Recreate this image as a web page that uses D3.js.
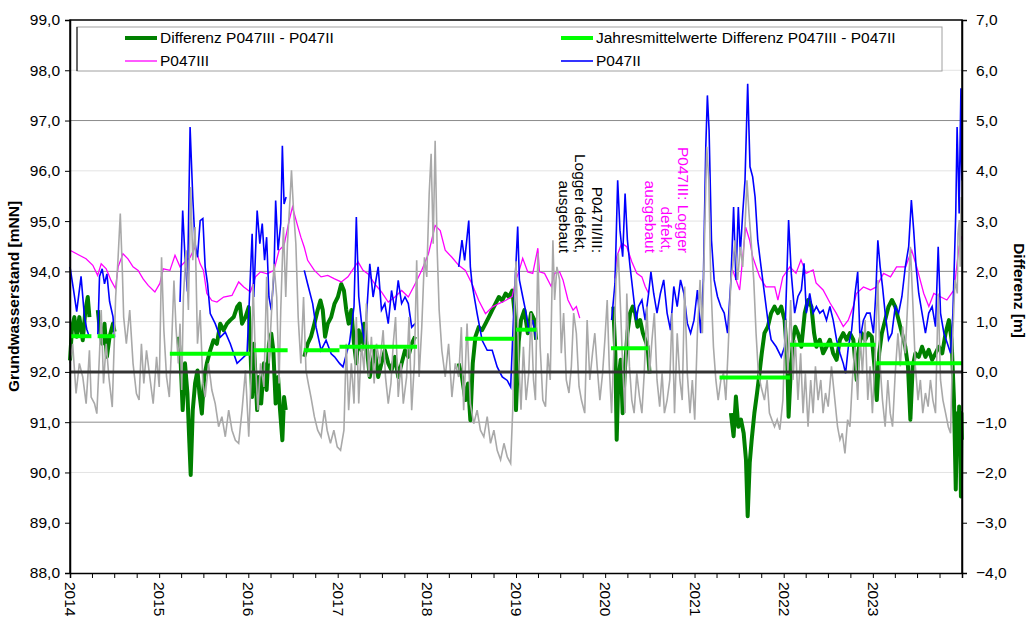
<!DOCTYPE html>
<html><head><meta charset="utf-8">
<script src="https://cdn.jsdelivr.net/npm/d3@7"></script>
<style>body{margin:0;background:#fff} text{font-family:"Liberation Sans",Arial,sans-serif}</style>
</head><body><svg id="c" width="1031" height="621"></svg>
<script>
// ---------------- data (decimal year, value) ----------------
// Differenz P047III - P047II [m] (right axis)
const diffSeries = [
[2014.000,0.23],[2014.023,0.89],[2014.049,1.09],[2014.075,0.70],[2014.105,1.09],[2014.143,0.63],[2014.173,1.23],[2014.199,1.49],[2014.218,1.09],[2014.26,null],
[2014.312,1.23],[2014.331,0.89],[2014.361,0.56],[2014.387,0.96],[2014.414,0.30],[2014.444,0.70],[2014.482,0.96],[2014.500,0.80],[2014.9,null],
[2015.215,0.70],[2015.242,0.17],[2015.264,-0.76],[2015.290,0.17],[2015.317,-0.43],[2015.339,-1.42],[2015.354,-2.05],[2015.377,-0.76],[2015.403,-0.23],[2015.430,0.03],[2015.452,-0.43],[2015.479,-0.83],[2015.505,-0.10],[2015.535,0.17],[2015.573,0.43],[2015.610,0.63],[2015.648,0.56],[2015.685,0.96],[2015.723,0.83],[2015.761,0.96],[2015.798,1.03],[2015.836,1.09],[2015.874,1.29],[2015.904,1.36],[2015.930,0.96],[2015.968,1.09],
[2016.005,1.29],[2016.024,0.43],[2016.043,-0.50],[2016.062,0.56],[2016.081,-0.10],[2016.099,-0.76],[2016.118,-0.10],[2016.144,-0.63],[2016.175,0.17],[2016.205,-0.36],[2016.231,0.56],[2016.257,0.76],[2016.280,0.43],[2016.306,-0.63],[2016.333,-0.10],[2016.355,-0.76],[2016.381,-1.36],[2016.400,-0.50],[2016.419,-0.76],[2016.5,null],
[2016.626,0.30],[2016.664,0.56],[2016.701,0.70],[2016.739,0.96],[2016.776,1.23],[2016.807,1.42],[2016.833,1.23],[2016.859,0.70],[2016.889,0.96],[2016.927,1.09],[2016.965,1.36],
[2017.002,1.49],[2017.040,1.75],[2017.070,1.62],[2017.096,1.23],[2017.123,0.96],[2017.153,1.23],[2017.183,0.56],[2017.209,0.17],[2017.236,0.83],[2017.266,0.43],[2017.296,0.96],[2017.322,0.56],[2017.360,-0.10],[2017.386,0.17],[2017.416,0.43],[2017.454,-0.10],[2017.491,0.17],[2017.529,0.43],[2017.567,0.17],[2017.604,0.03],[2017.642,0.30],[2017.679,-0.10],[2017.717,0.17],[2017.755,0.43],[2017.792,0.30],[2017.830,0.56],[2017.868,0.70],[2018.0,null],
[2018.357,0.17],[2018.394,-0.10],[2018.432,-0.56],[2018.462,-0.23],[2018.488,-0.96],[2018.515,0.17],[2018.545,0.70],[2018.582,0.89],[2018.620,0.83],[2018.658,0.96],[2018.695,1.09],[2018.733,1.23],[2018.771,1.36],[2018.808,1.49],[2018.846,1.42],[2018.883,1.56],[2018.921,1.49],[2018.959,1.62],[2018.989,1.09],
[2019.000,-0.76],[2019.030,0.60],[2019.056,1.03],[2019.094,1.23],[2019.132,0.77],[2019.169,1.17],[2019.207,1.03],[2019.226,0.64],[2019.5,null],
[2020.091,1.30],[2020.114,0.37],[2020.129,-1.35],[2020.147,-0.16],[2020.174,0.24],[2020.196,-0.82],[2020.223,0.11],[2020.249,0.77],[2020.279,1.17],[2020.309,1.30],[2020.336,1.17],[2020.362,0.90],[2020.392,1.03],[2020.422,0.77],[2020.448,0.64],[2020.475,0.50],[2020.497,-0.03],[2020.8,null],
[2021.408,-0.82],[2021.438,-1.28],[2021.464,-0.49],[2021.491,-1.09],[2021.521,-0.95],[2021.551,-1.22],[2021.577,-1.75],[2021.596,-2.87],[2021.619,-1.81],[2021.641,-1.35],[2021.671,-0.82],[2021.701,-0.42],[2021.728,-0.03],[2021.754,0.37],[2021.784,0.77],[2021.822,0.90],[2021.859,1.17],[2021.897,1.30],[2021.935,1.17],[2021.972,1.30],
[2022.010,1.03],[2022.040,0.24],[2022.055,-0.89],[2022.078,-0.03],[2022.104,0.64],[2022.130,0.90],[2022.160,0.77],[2022.198,0.50],[2022.236,1.17],[2022.273,1.43],[2022.311,1.30],[2022.341,0.77],[2022.367,0.50],[2022.405,0.64],[2022.442,0.37],[2022.480,0.50],[2022.518,0.64],[2022.555,0.37],[2022.593,0.24],[2022.631,0.64],[2022.668,0.77],[2022.706,0.64],[2022.743,0.77],[2022.781,0.64],[2022.819,-0.16],[2022.845,0.50],[2022.875,0.77],[2022.913,0.64],[2022.950,0.77],[2022.988,0.70],
[2023.018,0.11],[2023.044,-0.56],[2023.071,0.37],[2023.101,0.77],[2023.138,1.03],[2023.176,1.30],[2023.214,1.43],[2023.251,1.30],[2023.289,1.03],[2023.326,0.77],[2023.364,0.50],[2023.394,0.11],[2023.421,-0.95],[2023.447,0.11],[2023.477,0.37],[2023.515,0.30],[2023.552,0.50],[2023.590,0.30],[2023.627,0.44],[2023.665,0.24],[2023.703,0.37],[2023.740,0.50],[2023.778,0.37],[2023.816,0.77],[2023.853,1.03],[2023.883,0.64],[2023.910,-0.56],[2023.930,-2.34],[2023.945,-0.82],[2023.958,-1.49],[2023.968,-0.69],[2023.978,-1.22],[2023.988,-2.48],[2023.994,-0.82],[2023.999,-1.35]
];
// Jahresmittelwerte Differenz (start, end, value)
const meanStart = [2014.01, 2014.31, 2015.12, 2016.06, 2016.62, 2017.02, 2018.43, 2019.00, 2020.065, 2021.28, 2022.07, 2023.04];
const meanEnd   = [2014.24, 2014.50, 2016.02, 2016.44, 2017.02, 2017.89, 2018.98, 2019.23, 2020.486, 2022.07, 2023.03, 2024.00];
const meanValue = [0.71, 0.71, 0.36, 0.43, 0.43, 0.50, 0.66, 0.84, 0.47, -0.11, 0.54, 0.17];
// P047III [mNN]
const p3Series = [
[2014.000,94.42],[2014.105,94.32],[2014.180,94.25],[2014.256,94.12],[2014.310,93.92],[2014.350,94.15],[2014.406,94.05],[2014.460,93.82],[2014.510,93.66],[2014.540,94.09],[2014.594,94.35],[2014.650,94.25],[2014.707,94.09],[2014.764,94.02],[2014.820,93.85],[2014.877,93.72],[2014.952,93.59],
[2015.008,93.76],[2015.046,94.05],[2015.121,94.02],[2015.178,94.32],[2015.234,94.09],[2015.290,94.19],[2015.347,94.28],[2015.403,94.48],[2015.460,94.15],[2015.497,94.02],[2015.535,93.56],[2015.591,93.42],[2015.648,93.39],[2015.723,93.49],[2015.817,93.52],[2015.892,93.79],[2015.949,93.69],
[2016.024,93.59],[2016.080,93.89],[2016.137,93.99],[2016.212,93.95],[2016.287,94.02],[2016.344,94.42],[2016.400,94.52],[2016.457,95.01],[2016.494,95.28],[2016.551,94.91],[2016.588,94.68],[2016.626,94.48],[2016.664,94.22],[2016.739,94.02],[2016.814,93.89],[2016.889,93.92],[2016.965,93.85],
[2017.040,93.79],[2017.115,93.89],[2017.190,94.09],[2017.228,94.19],[2017.284,94.02],[2017.341,93.95],[2017.416,93.75],[2017.491,93.59],[2017.567,93.39],[2017.642,93.49],[2017.717,93.62],[2017.792,93.49],[2017.868,93.75],[2017.943,94.02],
[2018.018,94.35],[2018.093,94.91],[2018.150,94.81],[2018.206,94.42],[2018.281,94.28],[2018.357,94.12],[2018.432,94.02],[2018.507,93.75],[2018.582,93.42],[2018.658,93.16],[2018.733,93.29],[2018.808,93.36],[2018.883,93.42],[2018.958,93.50],
[2019.000,93.83],[2019.038,94.03],[2019.075,94.26],[2019.132,93.99],[2019.188,93.96],[2019.245,94.46],[2019.263,93.99],[2019.320,93.96],[2019.395,93.70],[2019.433,93.96],[2019.489,93.99],[2019.527,93.83],[2019.583,93.43],[2019.640,93.23],[2019.677,93.30],[2019.715,93.07],[2019.9,null],
[2020.110,93.86],[2020.129,94.29],[2020.185,94.56],[2020.242,94.49],[2020.298,94.19],[2020.354,93.96],[2020.411,93.89],[2020.448,93.70],[2020.486,93.56],[2020.9,null],
[2021.427,94.03],[2021.506,93.63],[2021.573,94.88],[2021.618,94.62],[2021.652,94.29],[2021.731,93.89],[2021.800,93.69],[2021.900,93.69],[2021.935,93.43],[2021.990,93.89],
[2022.070,94.09],[2022.138,93.96],[2022.194,94.23],[2022.250,93.96],[2022.330,94.03],[2022.363,93.77],[2022.442,93.63],[2022.520,93.37],[2022.589,93.17],[2022.668,92.90],[2022.724,93.03],[2022.780,93.30],[2022.815,93.56],[2022.894,93.69],[2022.973,93.63],
[2023.040,93.69],[2023.120,93.96],[2023.198,93.89],[2023.266,94.09],[2023.368,94.09],[2023.436,94.42],[2023.492,94.09],[2023.571,93.56],[2023.628,93.30],[2023.684,93.56],[2023.763,93.49],[2023.830,93.43],[2023.910,93.63],[2023.966,94.48],[2023.999,94.70]
];
// P047II [mNN]
const p2Series = [
[2014.000,94.09],[2014.038,93.65],[2014.075,93.20],[2014.124,93.90],[2014.162,93.10],[2014.188,92.85],[2014.218,92.69],[2014.26,null],
[2014.312,92.75],[2014.331,93.90],[2014.361,94.05],[2014.387,93.75],[2014.414,93.95],[2014.444,93.40],[2014.482,93.10],[2014.500,92.69],[2014.9,null],
[2015.234,93.39],[2015.264,95.21],[2015.290,94.28],[2015.317,93.60],[2015.347,96.87],[2015.377,95.48],[2015.403,94.55],[2015.430,94.28],[2015.460,95.01],[2015.490,95.05],[2015.516,94.09],[2015.543,93.75],[2015.573,93.16],[2015.629,92.96],[2015.685,92.69],[2015.742,92.79],[2015.798,92.56],[2015.874,92.17],[2015.986,92.36],
[2016.043,94.75],[2016.062,93.49],[2016.099,95.21],[2016.129,94.55],[2016.156,94.95],[2016.182,94.22],[2016.205,94.68],[2016.231,93.49],[2016.257,93.23],[2016.287,93.95],[2016.306,95.41],[2016.333,94.42],[2016.363,94.95],[2016.381,96.50],[2016.400,95.34],[2016.423,95.48],[2016.5,null],
[2016.626,94.02],[2016.664,93.75],[2016.720,93.36],[2016.758,92.89],[2016.814,92.43],[2016.870,92.63],[2016.927,92.36],[2016.965,92.30],[2017.021,92.17],[2017.059,92.10],[2017.134,92.60],[2017.183,93.30],[2017.209,95.08],[2017.236,93.50],[2017.266,93.00],[2017.303,92.56],[2017.360,94.15],[2017.397,93.49],[2017.454,94.09],[2017.491,93.23],[2017.529,93.36],[2017.567,92.96],[2017.604,93.62],[2017.642,93.23],[2017.679,93.82],[2017.717,93.36],[2017.755,93.49],[2017.792,93.36],[2017.830,92.89],[2017.868,92.96],[2018.0,null],
[2018.357,94.09],[2018.394,94.62],[2018.424,94.22],[2018.451,94.68],[2018.470,95.01],[2018.488,94.09],[2018.507,93.75],[2018.564,93.16],[2018.620,92.63],[2018.677,92.43],[2018.733,92.43],[2018.789,92.10],[2018.846,91.90],[2018.902,91.83],[2018.940,91.70],[2018.977,93.30],
[2019.019,94.89],[2019.038,93.83],[2019.075,93.50],[2019.113,93.17],[2019.150,92.77],[2019.188,93.03],[2019.226,92.64],[2019.5,null],
[2020.072,93.03],[2020.110,93.76],[2020.140,95.81],[2020.166,94.82],[2020.196,94.29],[2020.223,95.55],[2020.249,94.62],[2020.279,94.09],[2020.317,93.50],[2020.347,93.03],[2020.373,93.30],[2020.411,93.43],[2020.448,93.03],[2020.486,93.56],[2020.512,93.99],[2020.543,93.56],[2020.580,93.17],[2020.618,93.56],[2020.655,93.83],[2020.693,93.17],[2020.731,92.83],[2020.768,93.70],[2020.806,93.30],[2020.843,93.83],[2020.881,93.56],[2020.919,92.97],[2020.956,92.77],[2020.994,93.03],
[2021.032,93.63],[2021.069,92.77],[2021.099,93.83],[2021.126,96.48],[2021.144,97.50],[2021.163,96.81],[2021.190,94.62],[2021.220,93.83],[2021.257,93.50],[2021.295,93.30],[2021.333,93.17],[2021.370,92.77],[2021.408,93.83],[2021.438,95.28],[2021.464,93.83],[2021.491,95.28],[2021.513,94.36],[2021.540,95.15],[2021.566,95.81],[2021.596,97.73],[2021.622,96.08],[2021.652,95.88],[2021.679,95.48],[2021.709,94.62],[2021.746,94.09],[2021.784,93.56],[2021.822,93.03],[2021.859,92.64],[2021.916,92.50],[2021.972,92.30],
[2022.010,92.50],[2022.055,95.02],[2022.085,93.96],[2022.123,93.17],[2022.160,93.50],[2022.198,93.63],[2022.228,94.16],[2022.254,93.17],[2022.292,93.56],[2022.330,93.17],[2022.367,93.30],[2022.405,93.17],[2022.442,93.23],[2022.480,93.03],[2022.518,93.30],[2022.555,93.03],[2022.593,92.64],[2022.631,92.37],[2022.668,92.17],[2022.694,91.97],[2022.725,92.50],[2022.762,92.83],[2022.800,93.56],[2022.830,93.99],[2022.856,92.64],[2022.894,93.03],[2022.931,93.17],[2022.969,93.17],
[2023.007,92.77],[2023.033,93.56],[2023.056,94.62],[2023.082,94.09],[2023.108,93.70],[2023.138,93.17],[2023.176,92.64],[2023.214,92.77],[2023.251,93.30],[2023.289,93.17],[2023.326,93.50],[2023.364,94.09],[2023.402,94.49],[2023.432,95.42],[2023.458,94.82],[2023.485,94.09],[2023.515,93.56],[2023.552,93.17],[2023.590,92.77],[2023.627,93.17],[2023.665,93.30],[2023.703,92.90],[2023.733,94.49],[2023.759,93.17],[2023.797,92.77],[2023.835,92.57],[2023.872,92.37],[2023.898,93.17],[2023.930,95.15],[2023.945,96.87],[2023.958,95.95],[2023.968,95.15],[2023.978,96.48],[2023.988,97.64],[2023.994,96.15],[2023.999,95.81]
];
// grey reference series [mNN]
const greySeries = [
[2014.000,92.17],[2014.030,92.56],[2014.068,91.57],[2014.105,92.17],[2014.143,91.90],[2014.181,91.37],[2014.218,92.43],[2014.237,91.50],[2014.275,91.37],[2014.301,91.17],[2014.331,92.36],[2014.350,93.23],[2014.376,91.77],[2014.406,92.56],[2014.436,91.90],[2014.474,91.30],[2014.512,93.49],[2014.538,94.22],[2014.564,95.15],[2014.587,94.02],[2014.602,93.09],[2014.632,92.56],[2014.670,93.23],[2014.707,92.17],[2014.745,91.57],[2014.775,91.44],[2014.801,92.56],[2014.828,91.77],[2014.858,92.43],[2014.895,91.90],[2014.933,91.37],[2014.971,92.30],
[2015.001,91.70],[2015.027,94.28],[2015.053,92.83],[2015.083,91.90],[2015.114,91.50],[2015.140,92.56],[2015.166,93.82],[2015.189,92.89],[2015.215,92.17],[2015.234,92.96],[2015.253,91.64],[2015.272,93.49],[2015.302,94.42],[2015.328,93.23],[2015.354,95.68],[2015.377,94.22],[2015.403,94.88],[2015.430,92.56],[2015.460,93.23],[2015.490,91.77],[2015.516,91.50],[2015.554,92.17],[2015.591,91.64],[2015.629,91.37],[2015.667,90.91],[2015.704,91.11],[2015.742,90.71],[2015.780,91.24],[2015.817,90.84],[2015.855,90.64],[2015.892,90.58],[2015.930,91.24],[2015.968,92.03],
[2016.005,90.71],[2016.032,91.90],[2016.054,93.75],[2016.081,92.17],[2016.107,91.24],[2016.137,92.17],[2016.175,91.70],[2016.205,93.89],[2016.231,92.17],[2016.257,93.09],[2016.287,94.15],[2016.318,93.49],[2016.344,91.77],[2016.363,93.23],[2016.393,94.88],[2016.419,93.49],[2016.438,94.55],[2016.468,95.48],[2016.483,96.01],[2016.506,95.21],[2016.532,94.55],[2016.558,93.09],[2016.588,92.17],[2016.618,93.49],[2016.645,92.03],[2016.671,91.77],[2016.701,91.50],[2016.739,91.11],[2016.776,90.84],[2016.814,90.71],[2016.852,91.24],[2016.882,90.84],[2016.919,90.58],[2016.957,90.84],[2016.995,90.51],
[2017.032,90.44],[2017.070,90.84],[2017.096,92.56],[2017.123,91.24],[2017.153,92.17],[2017.183,91.37],[2017.209,93.09],[2017.236,91.37],[2017.266,92.56],[2017.296,92.03],[2017.322,93.36],[2017.348,91.90],[2017.378,92.70],[2017.409,91.77],[2017.435,92.56],[2017.473,92.17],[2017.510,92.83],[2017.536,91.90],[2017.567,91.37],[2017.597,91.77],[2017.623,92.56],[2017.649,93.09],[2017.679,91.50],[2017.710,92.17],[2017.736,91.37],[2017.773,91.90],[2017.800,93.09],[2017.830,91.24],[2017.860,92.17],[2017.886,94.22],[2017.913,91.90],[2017.943,92.89],[2017.973,94.28],[2017.999,93.89],
[2018.026,95.54],[2018.048,96.34],[2018.071,94.55],[2018.093,96.60],[2018.116,94.42],[2018.138,93.23],[2018.168,92.43],[2018.206,91.90],[2018.244,92.56],[2018.281,91.50],[2018.319,92.17],[2018.357,91.90],[2018.387,92.89],[2018.413,91.24],[2018.451,92.96],[2018.488,91.37],[2018.526,90.97],[2018.564,91.24],[2018.601,90.84],[2018.639,90.71],[2018.677,91.11],[2018.714,90.58],[2018.752,90.84],[2018.789,90.44],[2018.827,90.25],[2018.865,90.58],[2018.902,90.31],[2018.940,90.18],[2018.966,91.37],[2018.989,93.75],
[2019.000,94.20],[2019.030,92.24],[2019.056,91.25],[2019.083,92.50],[2019.113,91.44],[2019.143,91.97],[2019.169,93.17],[2019.196,91.84],[2019.218,91.44],[2019.245,94.36],[2019.271,92.50],[2019.301,91.44],[2019.331,91.31],[2019.357,92.37],[2019.384,91.84],[2019.414,94.62],[2019.433,93.43],[2019.459,94.09],[2019.489,93.83],[2019.508,92.37],[2019.534,93.17],[2019.564,91.84],[2019.594,91.58],[2019.621,92.11],[2019.647,93.17],[2019.677,92.77],[2019.707,91.71],[2019.734,91.44],[2019.771,91.18],[2019.798,93.03],[2019.828,91.84],[2019.858,92.37],[2019.884,92.77],[2019.910,92.11],[2019.941,91.44],[2019.971,91.97],[2019.997,92.64],
[2020.023,93.43],[2020.046,92.11],[2020.072,91.18],[2020.099,92.50],[2020.121,93.83],[2020.147,94.36],[2020.174,93.17],[2020.196,92.11],[2020.223,91.18],[2020.242,93.56],[2020.272,92.11],[2020.298,91.44],[2020.324,91.18],[2020.354,91.97],[2020.384,91.51],[2020.411,91.18],[2020.437,91.97],[2020.467,93.30],[2020.497,91.97],[2020.524,92.64],[2020.550,93.17],[2020.580,91.84],[2020.610,91.31],[2020.637,91.97],[2020.663,91.18],[2020.693,91.44],[2020.723,91.84],[2020.749,93.17],[2020.776,91.18],[2020.806,92.77],[2020.836,91.84],[2020.862,91.44],[2020.889,93.70],[2020.919,91.97],[2020.949,91.18],[2020.975,91.84],
[2021.002,91.05],[2021.032,92.77],[2021.062,93.83],[2021.088,92.77],[2021.114,94.82],[2021.137,96.48],[2021.160,95.81],[2021.182,93.83],[2021.212,92.50],[2021.239,91.84],[2021.265,91.44],[2021.295,91.84],[2021.325,91.97],[2021.351,91.44],[2021.378,92.50],[2021.408,93.83],[2021.427,94.09],[2021.453,94.62],[2021.483,93.83],[2021.513,94.49],[2021.540,94.09],[2021.566,94.89],[2021.588,95.81],[2021.611,95.15],[2021.634,94.62],[2021.664,93.83],[2021.690,92.77],[2021.716,91.97],[2021.746,91.71],[2021.784,91.44],[2021.814,91.84],[2021.840,91.18],[2021.867,91.05],[2021.897,90.91],[2021.927,91.05],[2021.957,90.85],[2021.991,91.44],
[2022.021,93.03],[2022.047,91.97],[2022.078,93.43],[2022.104,91.84],[2022.130,92.64],[2022.160,91.44],[2022.190,92.37],[2022.217,91.18],[2022.243,91.97],[2022.273,90.91],[2022.303,91.84],[2022.330,91.18],[2022.356,92.11],[2022.386,91.44],[2022.416,91.84],[2022.442,91.18],[2022.469,91.58],[2022.499,91.31],[2022.536,92.11],[2022.574,91.44],[2022.604,90.91],[2022.631,90.65],[2022.657,90.78],[2022.687,90.38],[2022.717,91.05],[2022.743,90.91],[2022.770,91.84],[2022.800,92.50],[2022.830,91.44],[2022.856,92.77],[2022.883,91.97],[2022.913,93.03],[2022.943,91.44],[2022.969,92.11],[2022.995,91.18],
[2023.026,92.37],[2023.056,93.83],[2023.082,92.11],[2023.108,91.44],[2023.138,90.91],[2023.168,91.84],[2023.195,91.18],[2023.221,90.91],[2023.251,91.97],[2023.281,92.77],[2023.308,92.11],[2023.334,92.90],[2023.364,92.37],[2023.394,93.50],[2023.421,94.49],[2023.447,93.43],[2023.477,92.11],[2023.507,91.44],[2023.533,91.84],[2023.560,91.18],[2023.590,91.58],[2023.620,91.31],[2023.646,91.84],[2023.673,91.44],[2023.703,91.18],[2023.733,93.56],[2023.759,91.84],[2023.786,91.44],[2023.816,91.18],[2023.846,90.91],[2023.872,90.78],[2023.898,92.77],[2023.921,93.83],[2023.947,93.56],[2023.955,94.75],[2023.970,95.02],[2023.980,94.09],[2023.990,95.48],[2023.999,95.15]
];
const leftTicks = [88,89,90,91,92,93,94,95,96,97,98,99];
const rightTicks = [-4,-3,-2,-1,0,1,2,3,4,5,6,7];
const gridDark = [97,94,91];
const gridLight = [98,96,95,93,90];
const legendLabels = ["Differenz P047III - P047II","Jahresmittelwerte Differenz P047III - P047II","P047III","P047II"];
const note1 = ["P047II/III:","Logger defekt,","ausgebaut"];
const note2 = ["P047III: Logger","defekt,","ausgebaut"];

// ---------------- drawing ----------------
const svg = d3.select('#c');
const X0=70, X1=962, Y0=20, Y1=573;
const toDate = t => { const y=Math.floor(t); const a=new Date(y,0,1).getTime(), b=new Date(y+1,0,1).getTime(); return new Date(a+(t-y)*(b-a)); };
const x = d3.scaleTime().domain([new Date(2014,0,1), new Date(2024,0,1)]).range([X0,X1]);
const yL = d3.scaleLinear().domain([88,99]).range([Y1,Y0]);
const yR = d3.scaleLinear().domain([-4,7]).range([Y1,Y0]);
const fmt = d => d3.format('.1f')(d).replace('.',',');
const FONT = 15.5;

// grid
svg.append('g').selectAll('line').data(gridLight).join('line')
  .attr('x1',X0).attr('x2',X1).attr('y1',d=>yL(d)).attr('y2',d=>yL(d))
  .attr('stroke','#e3e3e3').attr('stroke-width',1);
svg.append('g').selectAll('line').data(gridDark).join('line')
  .attr('x1',X0).attr('x2',X1).attr('y1',d=>yL(d)).attr('y2',d=>yL(d))
  .attr('stroke','#8c8c8c').attr('stroke-width',1);

const lineL = d3.line().defined(d=>d[1]!=null).x(d=>x(toDate(d[0]))).y(d=>yL(d[1]));
const lineR = d3.line().defined(d=>d[1]!=null).x(d=>x(toDate(d[0]))).y(d=>yR(d[1]));

svg.append('path').datum(diffSeries).attr('d',lineR).attr('fill','none').attr('stroke','#008000').attr('stroke-width',4).attr('stroke-linejoin','round');
svg.append('path').datum(p3Series).attr('d',lineL).attr('fill','none').attr('stroke','#ff00ff').attr('stroke-width',1.3);
svg.append('path').datum(p2Series).attr('d',lineL).attr('fill','none').attr('stroke','#0000ff').attr('stroke-width',1.6);
svg.append('path').datum(greySeries).attr('d',lineL).attr('fill','none').attr('stroke','#a9a9a9').attr('stroke-width',1.6);

// zero line of difference
svg.append('line').attr('x1',X0).attr('x2',X1).attr('y1',yR(0)).attr('y2',yR(0)).attr('stroke','#333').attr('stroke-width',3);

// yearly means
svg.append('g').selectAll('line').data(meanValue).join('line')
  .attr('x1',(d,i)=>x(toDate(meanStart[i]))).attr('x2',(d,i)=>x(toDate(meanEnd[i])))
  .attr('y1',d=>yR(d)).attr('y2',d=>yR(d))
  .attr('stroke','#00ff00').attr('stroke-width',4);

// frame
svg.append('path').attr('d',`M${X0},${Y1}V${Y0}H${X1}V${Y1}`).attr('fill','none').attr('stroke','#000').attr('stroke-width',1.5);

// axes
const ax = svg.append('g').attr('transform',`translate(0,${Y1})`)
  .call(d3.axisBottom(x).tickValues(d3.timeMonth.every(3).range(new Date(2014,0,1), new Date(2024,0,2))).tickSize(5)
  .tickFormat(d => d.getMonth()===0 && d.getFullYear()<2024 ? d3.timeFormat('%Y')(d) : ''));
ax.select('.domain').attr('stroke','#000').attr('stroke-width',1.5);
ax.selectAll('.tick line').attr('stroke','#000');
ax.selectAll('.tick text').attr('font-size',FONT).attr('fill','#000').attr('font-family','"Liberation Sans",Arial,sans-serif')
  .attr('transform','rotate(90)').attr('text-anchor','start').attr('dy','0.35em').attr('x',9).attr('y',0);

const al = svg.append('g').attr('transform',`translate(${X0},0)`)
  .call(d3.axisLeft(yL).tickValues(leftTicks).tickFormat(fmt).tickSize(5).tickPadding(5));
al.select('.domain').attr('stroke','#000').attr('stroke-width',1.5);
al.selectAll('text').attr('font-size',FONT).attr('fill','#000').attr('font-family','"Liberation Sans",Arial,sans-serif');

const ar = svg.append('g').attr('transform',`translate(${X1},0)`)
  .call(d3.axisRight(yR).tickValues(rightTicks).tickFormat(fmt).tickSize(5).tickPadding(9));
ar.select('.domain').attr('stroke','#000').attr('stroke-width',1.5);
ar.selectAll('text').attr('font-size',FONT).attr('fill','#000').attr('font-family','"Liberation Sans",Arial,sans-serif');

// axis titles
svg.append('text').attr('transform',`translate(19,${(Y0+Y1)/2}) rotate(-90)`).attr('text-anchor','middle')
  .attr('font-size',FONT).attr('font-weight','bold').text('Grundwasserstand [mNN]');
svg.append('text').attr('transform',`translate(1014,${(Y0+Y1)/2 - 6}) rotate(90)`).attr('text-anchor','middle')
  .attr('font-size',FONT).attr('font-weight','bold').text('Differenz [m]');

// legend
svg.append('rect').attr('x',77).attr('y',27).attr('width',865).attr('height',44).attr('fill','#fff').attr('stroke','#a0a0a0').attr('stroke-width',1);
svg.append('line').attr('x1',77).attr('x2',77).attr('y1',27).attr('y2',71).attr('stroke','#000');
const legItems = [
  {x:125, y:38, color:'#008000', w:4, label:legendLabels[0]},
  {x:561, y:38, color:'#00ff00', w:4, label:legendLabels[1]},
  {x:125, y:61, color:'#ff00ff', w:1.3, label:legendLabels[2]},
  {x:561, y:61, color:'#0000ff', w:1.6, label:legendLabels[3]}
];
const lg = svg.append('g').selectAll('g').data(legItems).join('g');
lg.append('line').attr('x1',d=>d.x).attr('x2',d=>d.x+32).attr('y1',d=>d.y).attr('y2',d=>d.y).attr('stroke',d=>d.color).attr('stroke-width',d=>d.w);
lg.append('text').attr('x',d=>d.x+35).attr('y',d=>d.y).attr('dy','0.35em').attr('font-size',FONT).attr('fill','#000').text(d=>d.label);

// annotations
function note(lines, xFirst, yEnd, color){
  const g = svg.append('g');
  lines.forEach((s,i)=>{
    g.append('text').attr('transform',`translate(${xFirst - i*16.5},${yEnd}) rotate(90)`)
      .attr('text-anchor','end').attr('dominant-baseline','central').attr('font-size',FONT).attr('fill',color).text(s);
  });
}
note(note1, 597, 253, '#000');
note(note2, 683, 253, '#ff00ff');
</script></body></html>
